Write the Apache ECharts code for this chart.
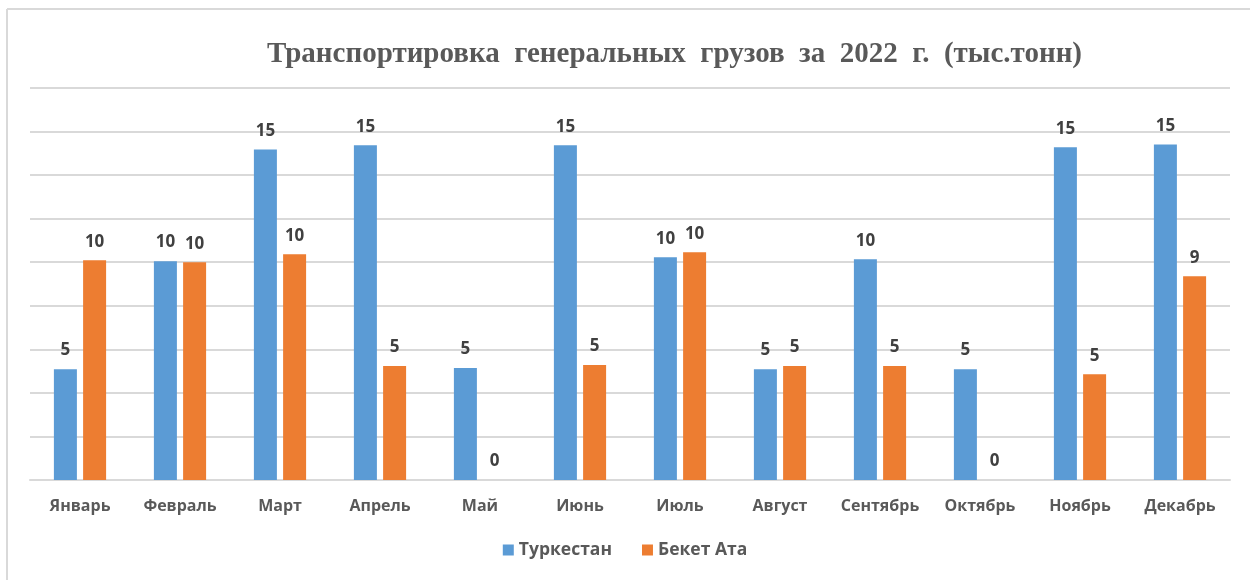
<!DOCTYPE html>
<html><head><meta charset="utf-8">
<script src="https://cdn.jsdelivr.net/npm/echarts@6/dist/echarts.min.js"></script>
<style>html,body{margin:0;padding:0;background:#fff}#c{width:1250px;height:580px}</style>
</head><body><div id="c"></div>
<script>
const categories = ['Январь','Февраль','Март','Апрель','Май','Июнь','Июль','Август','Сентябрь','Октябрь','Ноябрь','Декабрь'];
const turkestan = [5.09, 10.05, 15.18, 15.37, 5.14, 15.37, 10.23, 5.09, 10.14, 5.09, 15.28, 15.41];
const beketAta = [10.09, 10.0, 10.37, 5.23, 0, 5.28, 10.46, 5.23, 5.23, 0, 4.86, 9.36];
const seriesNames = ['Туркестан','Бекет Ата'];
const titleText = 'Транспортировка  генеральных  грузов  за  2022  г.  (тыс.тонн)';

const chart = echarts.init(document.getElementById('c'));
const labelCfg = {
  show: true, position: 'top', distance: 10,
  formatter: p => Math.round(p.value),
  fontFamily: 'Open Sans, sans-serif', fontWeight: 'bold', fontSize: 17, color: '#404040'
};
chart.setOption({
  animation: false,
  graphic: [
    {type: 'line', shape: {x1: 7, y1: 9, x2: 1250, y2: 9}, style: {stroke: '#d9d9d9', lineWidth: 2}},
    {type: 'line', shape: {x1: 7, y1: 9, x2: 7, y2: 580}, style: {stroke: '#d9d9d9', lineWidth: 2}}
  ],
  title: {
    text: titleText, left: 262, top: 35,
    textStyle: {fontFamily: 'Liberation Serif, serif', fontWeight: 'bold', fontSize: 29, color: '#595959'}
  },
  legend: {
    data: seriesNames, bottom: 16, left: 'center', itemWidth: 11, itemHeight: 11, itemGap: 30,
    icon: 'rect',
    textStyle: {fontFamily: 'Open Sans, sans-serif', fontWeight: 'bold', fontSize: 17.5, color: '#595959'}
  },
  grid: {left: 30, right: 20, top: 88, bottom: 100, containLabel: false},
  xAxis: {
    type: 'category', data: categories,
    axisLine: {lineStyle: {color: '#d9d9d9', width: 2}}, axisTick: {show: false},
    axisLabel: {interval: 0, margin: 18, fontFamily: 'Open Sans, sans-serif', fontWeight: 'bold', fontSize: 16, color: '#595959'}
  },
  yAxis: {
    type: 'value', min: 0, max: 18, interval: 2,
    axisLabel: {show: false}, axisLine: {show: false}, axisTick: {show: false},
    splitLine: {lineStyle: {color: '#d9d9d9', width: 2}}
  },
  series: [
    {name: seriesNames[0], type: 'bar', data: turkestan, barWidth: 23, barGap: '27%',
     itemStyle: {color: '#5b9bd5'}, label: labelCfg},
    {name: seriesNames[1], type: 'bar', data: beketAta, barWidth: 23,
     itemStyle: {color: '#ed7d31'}, label: labelCfg}
  ]
});
</script></body></html>
